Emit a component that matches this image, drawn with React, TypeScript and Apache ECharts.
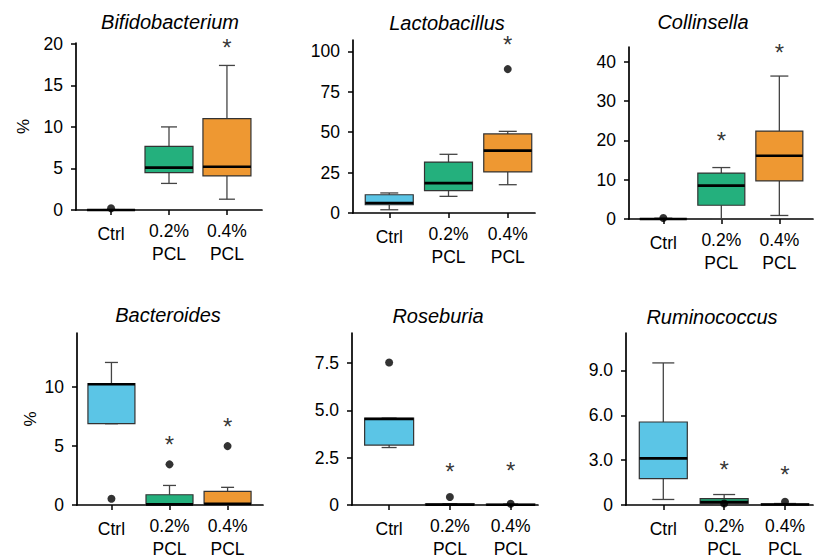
import React, { useEffect, useRef } from 'react';
import * as echarts from 'echarts';

// ---------- DATA ----------
const categories = ['Ctrl', '0.2%\nPCL', '0.4%\nPCL'];
const titles = ['Bifidobacterium', 'Lactobacillus', 'Collinsella', 'Bacteroides', 'Roseburia', 'Ruminococcus'];

// box stats: [min, Q1, median, Q3, max] for Ctrl, 0.2% PCL, 0.4% PCL
const bifidobacteriumBoxes = [
  [0, 0, 0, 0.02, 0.05],
  [3.2, 4.5, 5.1, 7.65, 10],
  [1.3, 4.1, 5.2, 11, 17.4],
];
const lactobacillusBoxes = [
  [2.0, 5.1, 6.2, 11.3, 12.4],
  [10.3, 13.8, 18.5, 31.5, 36.3],
  [17.5, 25.4, 38.6, 48.9, 50.5],
];
const collinsellaBoxes = [
  [0, 0, 0, 0.1, 0.2],
  [0, 3.5, 8.5, 11.7, 13.1],
  [0.9, 9.7, 16.1, 22.4, 36.4],
];
const bacteroidesBoxes = [
  [6.9, 6.9, 10.25, 10.3, 12.1],
  [0, 0, 0.05, 0.87, 1.66],
  [0, 0, 0.1, 1.15, 1.5],
];
const roseburiaBoxes = [
  [3.04, 3.17, 4.55, 4.6, 4.6],
  [0, 0, 0.02, 0.05, 0.07],
  [0, 0, 0.01, 0.03, 0.05],
];
const ruminococcusBoxes = [
  [0.37, 1.76, 3.12, 5.55, 9.5],
  [0.05, 0.1, 0.2, 0.42, 0.7],
  [0, 0.01, 0.03, 0.06, 0.1],
];

// outliers: [category index, value]
const bifidobacteriumOutliers = [[0, 0.2]];
const lactobacillusOutliers = [[2, 89]];
const collinsellaOutliers = [[0, 0.25]];
const bacteroidesOutliers = [[0, 0.53], [1, 3.45], [2, 5.0]];
const roseburiaOutliers = [[0, 7.54], [1, 0.42], [2, 0.07]];
const ruminococcusOutliers = [[1, 0.1], [2, 0.22]];

// significance asterisks: [category index, value]
const bifidobacteriumStars = [[2, 19.9]];
const lactobacillusStars = [[2, 106]];
const collinsellaStars = [[1, 20.6], [2, 43.1]];
const bacteroidesStars = [[1, 5.37], [2, 6.9]];
const roseburiaStars = [[1, 1.9], [2, 1.95]];
const ruminococcusStars = [[1, 2.53], [2, 2.18]];

// y-axis tick values
const bifidobacteriumTicks = [0, 5, 10, 15, 20];
const lactobacillusTicks = [0, 25, 50, 75, 100];
const collinsellaTicks = [0, 10, 20, 30, 40];
const bacteroidesTicks = [0, 5, 10];
const roseburiaTicks = [0, 2.5, 5, 7.5];
const ruminococcusTicks = [0, 3, 6, 9];

const allBoxes = [bifidobacteriumBoxes, lactobacillusBoxes, collinsellaBoxes, bacteroidesBoxes, roseburiaBoxes, ruminococcusBoxes];
const allOutliers = [bifidobacteriumOutliers, lactobacillusOutliers, collinsellaOutliers, bacteroidesOutliers, roseburiaOutliers, ruminococcusOutliers];
const allStars = [bifidobacteriumStars, lactobacillusStars, collinsellaStars, bacteroidesStars, roseburiaStars, ruminococcusStars];
const allTicks = [bifidobacteriumTicks, lactobacillusTicks, collinsellaTicks, bacteroidesTicks, roseburiaTicks, ruminococcusTicks];

// ---------- LAYOUT / STYLE ----------
const COLORS = ['#5BC5E6', '#24B07D', '#EE9832'];
const FONT = "'Liberation Sans', Arial, Helvetica, sans-serif";

const layouts = [
  { left: 76, top: 43, zero: 210, right: 262, yMax: 20.1, xMin: 0.395, xMax: 3.605, box: 48, cap: 16, digits: 0, yName: '%', nameGap: 44, tx: 170, ty: 22 },
  { left: 353, top: 40, zero: 213, right: 535, yMax: 107, xMin: 0.388, xMax: 3.46, box: 48, cap: 18, digits: 0, yName: '', nameGap: 0, tx: 447, ty: 23 },
  { left: 629, top: 47, zero: 219, right: 813, yMax: 43.8, xMin: 0.409, xMax: 3.58, box: 47, cap: 18, digits: 0, yName: '', nameGap: 0, tx: 703, ty: 22 },
  { left: 77, top: 333, zero: 507, right: 263, yMax: 14.6, xMin: 0.407, xMax: 3.61, box: 47, cap: 13, digits: 0, yName: '%', nameGap: 38, tx: 168, ty: 315 },
  { left: 352, top: 333, zero: 507, right: 538, yMax: 9.1, xMin: 0.389, xMax: 3.45, box: 49, cap: 15, digits: 1, yName: '', nameGap: 0, tx: 438, ty: 316 },
  { left: 626, top: 333, zero: 507, right: 813, yMax: 11.5, xMin: 0.387, xMax: 3.46, box: 48, cap: 22, digits: 1, yName: '', nameGap: 0, tx: 712, ty: 317 },
];

function buildOption() {
  const grid: any[] = [];
  const xAxis: any[] = [];
  const yAxis: any[] = [];
  const series: any[] = [];
  const title: any[] = [];

  layouts.forEach((l, i) => {
    grid.push({ left: l.left, top: l.top, width: l.right - l.left, height: l.zero - l.top, containLabel: false });
    title.push({
      text: titles[i],
      left: l.tx,
      top: l.ty,
      padding: 0,
      textAlign: 'center',
      textVerticalAlign: 'middle',
      textStyle: { fontFamily: FONT, fontStyle: 'italic', fontWeight: 'normal', fontSize: 20, color: '#000' },
    });
    xAxis.push({
      type: 'value',
      gridIndex: i,
      min: l.xMin,
      max: l.xMax,
      splitLine: { show: false },
      axisLine: { show: true, onZero: false, lineStyle: { color: '#000', width: 1.7 } },
      axisTick: { show: true, length: 5, customValues: [1, 2, 3], lineStyle: { color: '#000', width: 1.5 } },
      axisLabel: {
        customValues: [1, 2, 3],
        margin: 9,
        fontFamily: FONT,
        fontSize: 17.5,
        color: '#000',
        lineHeight: 23,
        formatter: (v: number) => {
          const idx = Math.round(v) - 1;
          return idx === 0 ? '{c|' + categories[0] + '}' : categories[idx];
        },
        rich: { c: { fontFamily: FONT, fontSize: 17.5, color: '#000', lineHeight: 30 } },
      },
    });
    yAxis.push({
      type: 'value',
      gridIndex: i,
      min: 0,
      max: l.yMax,
      name: l.yName,
      nameLocation: 'middle',
      nameRotate: 90,
      nameGap: l.nameGap,
      nameTextStyle: { fontFamily: FONT, fontSize: 17, color: '#000' },
      splitLine: { show: false },
      axisLine: { show: true, lineStyle: { color: '#000', width: 1.7 } },
      axisTick: { show: true, length: 5, customValues: allTicks[i], lineStyle: { color: '#000', width: 1.5 } },
      axisLabel: {
        customValues: allTicks[i],
        margin: 13,
        fontFamily: FONT,
        fontSize: 17.5,
        color: '#000',
        formatter: (v: number) => (v === 0 ? '0' : v.toFixed(l.digits)),
      },
    });

    const boxW = l.box;
    const capW = l.cap;
    series.push({
      type: 'custom',
      xAxisIndex: i,
      yAxisIndex: i,
      encode: { x: 0, y: [1, 2, 3, 4, 5] },
      z: 2,
      data: allBoxes[i].map((b, k) => ({ value: [k + 1, ...b], itemStyle: { color: COLORS[k] } })),
      renderItem: (params: any, api: any) => {
        const x = api.value(0);
        const pMin = api.coord([x, api.value(1)]);
        const pQ1 = api.coord([x, api.value(2)]);
        const pMed = api.coord([x, api.value(3)]);
        const pQ3 = api.coord([x, api.value(4)]);
        const pMax = api.coord([x, api.value(5)]);
        const cx = pMed[0];
        const color = api.visual('color');
        const wStyle = { stroke: '#444', lineWidth: 1.3 };
        return {
          type: 'group',
          children: [
            { type: 'line', shape: { x1: cx, y1: pMax[1], x2: cx, y2: pQ3[1] }, style: wStyle },
            { type: 'line', shape: { x1: cx, y1: pQ1[1], x2: cx, y2: pMin[1] }, style: wStyle },
            { type: 'line', shape: { x1: cx - capW / 2, y1: pMax[1], x2: cx + capW / 2, y2: pMax[1] }, style: wStyle },
            { type: 'line', shape: { x1: cx - capW / 2, y1: pMin[1], x2: cx + capW / 2, y2: pMin[1] }, style: wStyle },
            {
              type: 'rect',
              shape: { x: cx - boxW / 2, y: pQ3[1], width: boxW, height: pQ1[1] - pQ3[1] },
              style: { fill: color, stroke: '#333', lineWidth: 1.2 },
            },
            { type: 'line', shape: { x1: cx - boxW / 2, y1: pMed[1], x2: cx + boxW / 2, y2: pMed[1] }, style: { stroke: '#000', lineWidth: 2.6 } },
          ],
        };
      },
    });
    series.push({
      type: 'scatter',
      xAxisIndex: i,
      yAxisIndex: i,
      z: 3,
      symbol: 'circle',
      symbolSize: 8,
      itemStyle: { color: '#000' },
      data: allOutliers[i].map(([c, v]) => [c + 1, v]),
    });
    series.push({
      type: 'scatter',
      xAxisIndex: i,
      yAxisIndex: i,
      z: 4,
      symbol: 'circle',
      symbolSize: 1,
      itemStyle: { color: 'rgba(0,0,0,0)' },
      label: {
        show: true,
        position: 'inside',
        formatter: '*',
        fontFamily: FONT,
        fontSize: 24,
        color: '#000',
        offset: [0, 2.5],
      },
      data: allStars[i].map(([c, v]) => [c + 1, v]),
    });
  });

  return { animation: false, backgroundColor: '#fff', title, grid, xAxis, yAxis, series };
}

export default function App() {
  const ref = useRef<HTMLDivElement>(null);
  useEffect(() => {
    if (!ref.current) return;
    const chart = echarts.init(ref.current, undefined, { renderer: 'svg' });
    chart.setOption(buildOption() as any);
    return () => chart.dispose();
  }, []);
  return <div ref={ref} style={{ position: 'fixed', left: 0, top: 0, width: 814, height: 560, background: '#fff' }} />;
}
